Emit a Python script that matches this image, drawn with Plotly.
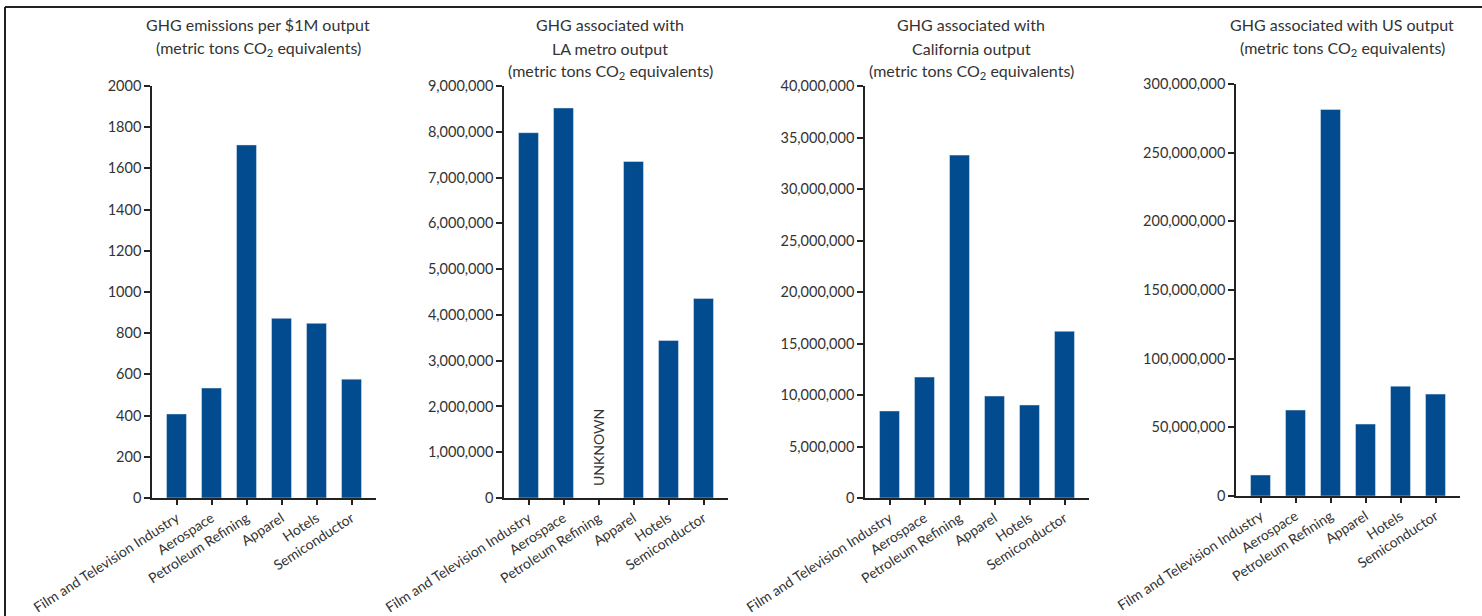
import plotly.graph_objects as go

categories = ["Film and Television Industry", "Aerospace", "Petroleum Refining",
              "Apparel", "Hotels", "Semiconductor"]
per_million = [408, 534, 1714, 872, 848, 577]
la_metro = [7980000, 8520000, None, 7350000, 3440000, 4360000]
california = [8450000, 11740000, 33290000, 9900000, 9030000, 16190000]
us_output = [15300000, 62600000, 281500000, 52400000, 80000000, 74200000]

title_lines = [
    ["GHG emissions per $1M output", "(metric tons CO<sub>2</sub> equivalents)"],
    ["GHG associated with", "LA metro output", "(metric tons CO<sub>2</sub> equivalents)"],
    ["GHG associated with", "California output", "(metric tons CO<sub>2</sub> equivalents)"],
    ["GHG associated with US output", "(metric tons CO<sub>2</sub> equivalents)"],
]
series = [per_million, la_metro, california, us_output]
y_max = [2000, 9000000, 40000000, 300000000]
y_step = [200, 1000000, 5000000, 50000000]
y_fmt = ["d", ",d", ",d", ",d"]

W, H = 1482, 616
FONT = "Lato"
BAR = "#024b8e"
INK = "#333333"
AX = "#222222"

x_px = [(152, 376), (504, 728), (865, 1089), (1236, 1460)]
y_px = [(86, 498), (86, 498), (86, 498), (84, 496)]
line_y = [24, 48, 71.5]

fig = go.Figure()
layout = dict(
    width=W, height=H, margin=dict(l=0, r=0, t=0, b=0, autoexpand=False),
    plot_bgcolor="white", paper_bgcolor="white", showlegend=False,
    bargap=0.43, font=dict(family=FONT, color=INK, size=14),
)
annotations = []
for i in range(4):
    sfx = "" if i == 0 else str(i + 1)
    fig.add_trace(go.Bar(x=categories, y=series[i], marker_color=BAR,
                         xaxis="x" + sfx, yaxis="y" + sfx, hoverinfo="x+y"))
    x0, x1 = x_px[i]
    yt, yb = y_px[i]
    layout["xaxis" + sfx] = dict(
        domain=[x0 / W, x1 / W], anchor="y" + sfx, range=[-0.7, 5.7],
        showline=True, linecolor=AX, linewidth=1.5, ticks="outside",
        ticklen=5, tickcolor=AX, tickwidth=1.5, tickangle=-33, automargin=False,
        tickfont=dict(family=FONT, size=14, color=INK), showgrid=False,
        fixedrange=True,
    )
    layout["yaxis" + sfx] = dict(
        domain=[1 - yb / H, 1 - yt / H], anchor="x" + sfx, automargin=False,
        range=[0, y_max[i]], dtick=y_step[i], tick0=0, tickformat=y_fmt[i],
        showline=True, linecolor=AX, linewidth=1.5, ticks="outside",
        ticklen=6, tickcolor=AX, tickwidth=1.5, showgrid=False, zeroline=False,
        tickfont=dict(family=FONT, size=14.5, color=INK), fixedrange=True,
    )
    for j, txt in enumerate(title_lines[i]):
        annotations.append(dict(
            text=txt, xref="paper", yref="paper",
            x=((x0 + x1) / 2 - 6) / W, y=1 - line_y[j] / H, xanchor="center", yanchor="middle",
            showarrow=False, font=dict(family=FONT, size=16, color=INK),
        ))

annotations.append(dict(
    text="UNKNOWN", xref="x2", yref="y2", x=categories[2], y=220000,
    xanchor="center", yanchor="bottom", textangle=-90, showarrow=False,
    font=dict(family=FONT, size=14, color=INK),
))
layout["annotations"] = annotations
layout["shapes"] = [
    dict(type="line", xref="paper", yref="paper", x0=5 / W, x1=1, y0=1 - 7 / H, y1=1 - 7 / H,
         line=dict(color=AX, width=2)),
    dict(type="line", xref="paper", yref="paper", x0=5 / W, x1=5 / W, y0=0, y1=1 - 7 / H,
         line=dict(color=AX, width=2)),
]
fig.update_layout(**layout)
fig.write_html("out.html", post_script="document.body.style.margin='0';",
               config={"displayModeBar": False})
